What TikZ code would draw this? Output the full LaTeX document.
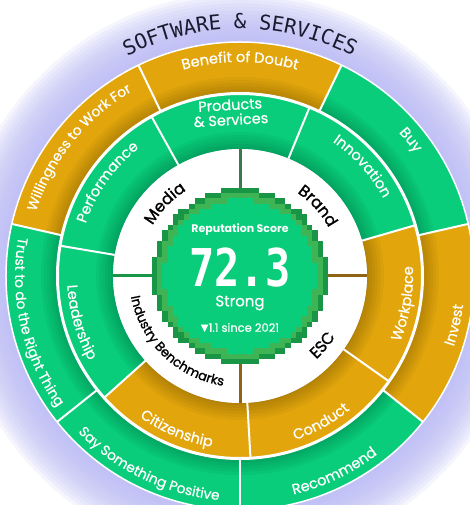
\documentclass[tikz,border=0pt]{standalone}
\usepackage{fontspec}
\usetikzlibrary{decorations.text}

\newfontfamily\lbl{Poppins}
\newfontfamily\lblm[FakeBold=0.6]{Poppins}
\newfontfamily\lbln[FakeBold=1.2]{Poppins}
\newfontfamily\pixfont{DejaVu Sans Mono}
\newfontfamily\simb{DejaVu Sans}

\definecolor{verde}{RGB}{9,205,122}
\definecolor{oro}{RGB}{226,166,12}
\definecolor{verdeosc}{RGB}{24,150,70}
\definecolor{verdemed}{RGB}{62,180,84}
\definecolor{lila}{RGB}{188,188,246}
\definecolor{tinta}{RGB}{26,26,46}
\definecolor{cafe}{RGB}{140,100,20}
\definecolor{musgo}{RGB}{60,120,80}

\newcommand{\blanca}{\lblm\fontsize{14.5}{14.5}\selectfont\color{white}}
\newcommand{\blancac}{\lblm\fontsize{13.8}{13.8}\selectfont\color{white}}
\newcommand{\negra}{\lbln\fontsize{16}{16}\selectfont\color{black}}
\newcommand{\negrac}{\lbln\fontsize{13}{13}\selectfont\color{black}}
\newcommand{\titulo}{\pixfont\fontsize{20.5}{20.5}\selectfont\color{tinta}}

% sector de anillo: inicio, fin, radio int, radio ext, color
\newcommand{\sectorfill}[5]{\fill[#5] (#1:#3) arc[start angle=#1, end angle=#2, radius=#3] -- (#2:#4) arc[start angle=#2, end angle=#1, radius=#4] -- cycle;}
% texto sobre arco: angulo, radio, texto, formato
\newcommand{\horario}[4]{\path[etiq, decoration={text={|#4|#3}}] ({#1+60}:#2) arc[start angle={#1+60}, end angle={#1-60}, radius=#2];}
\newcommand{\antihorario}[4]{\path[etiq, decoration={text={|#4|#3}}] ({#1-60}:#2) arc[start angle={#1-60}, end angle={#1+60}, radius=#2];}
% disco pixelado: radio (celdas), filas, color
\newcommand{\pixdisc}[3]{\foreach \j in {-#2,...,#2}{%
  \pgfmathsetlengthmacro\w{(floor(sqrt(#1*#1-(\j)*(\j)))+0.5)*5.35pt}%
  \pgfmathsetlengthmacro\ya{(\j-0.52)*5.35pt}%
  \pgfmathsetlengthmacro\yb{(\j+0.52)*5.35pt}%
  \fill[#3] (-\w,\ya) rectangle (\w,\yb);}}

\begin{document}
\begin{tikzpicture}
	\tikzstyle{etiq} = [decorate, decoration={text along path, text align=center}]
	\tikzstyle{centro} = [align=center, inner sep=0pt, text=white]
	\tikzstyle{divisor} = [line width=2pt, white]
	\tikzstyle{cuarto} = [line width=3pt]

	\useasboundingbox (-240pt,-229pt) rectangle (230pt,276pt);
	\fill[white] (-240pt,-229pt) rectangle (230pt,276pt);
	% halo
	\foreach \k in {14,13,...,1}{
		\pgfmathsetlengthmacro\rr{234pt+\k*3.5pt}
		\fill[lila, opacity=0.14] (0,0) circle[radius=\rr];
	}

	% anillo exterior
	\foreach \c [count=\i from 0] in {oro,oro,verde,verde,verde,oro,verde}{
		\pgfmathsetmacro\a{64.286+51.4286*\i}
		\pgfmathsetmacro\b{\a+51.4286}
		\sectorfill{\a}{\b}{182pt}{234pt}{\c}
	}
	\foreach \k in {2,5,...,17}{
		\pgfmathsetlengthmacro\rr{182pt+\k*1pt}
		\fill[black, opacity=0.035, even odd rule] (0,0) circle[radius=182pt] circle[radius=\rr];
	}

	% anillo medio
	\foreach \c [count=\i from 0] in {verde,verde,verde,oro,oro,oro,verde}{
		\pgfmathsetmacro\a{67.586+51.4286*\i}
		\pgfmathsetmacro\b{\a+51.4286}
		\sectorfill{\a}{\b}{127pt}{182pt}{\c}
	}
	\foreach \k in {2,5,...,17}{
		\pgfmathsetlengthmacro\rr{127pt+\k*1pt}
		\fill[black, opacity=0.035, even odd rule] (0,0) circle[radius=127pt] circle[radius=\rr];
	}

	\foreach \i in {0,...,6}{
		\draw[divisor] ({64.286+51.4286*\i}:182pt) -- ({64.286+51.4286*\i}:234pt);
		\draw[divisor] ({67.586+51.4286*\i}:127pt) -- ({67.586+51.4286*\i}:182pt);
	}
	\draw[white, line width=3pt] (0,0) circle[radius=182.5pt];
	\draw[white, line width=1.5pt] (0,0) circle[radius=234pt];

	% anillo blanco
	\fill[white] (0,0) circle[radius=127pt];
	\draw[cuarto, musgo] (90:86pt) -- (90:127pt);
	\draw[cuarto, verdeosc] (180:86pt) -- (180:127pt);
	\draw[cuarto, cafe] (0:86pt) -- (0:127pt);
	\draw[cuarto, cafe] (270:86pt) -- (270:127pt);

	% disco central
	\pixdisc{16.3}{16}{verdeosc}
	\pixdisc{15.3}{15}{verdemed}
	\pixdisc{14.3}{14}{verde}

	\draw (0pt,46pt) node[centro, font=\lbl\bfseries\fontsize{11}{11}\selectfont](rep){Reputation Score};
	\draw (0pt,8pt) node[centro, font=\pixfont\bfseries\fontsize{42}{42}\selectfont](val){\scalebox{1}[1.24]{72.3}};
	\draw (0pt,-27pt) node[centro, font=\lblm\fontsize{15}{15}\selectfont](cal){Strong};
	\draw (0pt,-52pt) node[centro, font=\lblm\fontsize{11.5}{11.5}\selectfont](tend){{\simb\fontsize{10}{10}\selectfont ▼}1.1 since 2021};
	\draw (93.3:164pt) node[centro, rotate=3.3, font=\lblm\fontsize{14.5}{15}\selectfont](prod){Products\\\& Services};

	\horario{90}{214pt}{Benefit of Doubt}{\blanca}
	\horario{38.57}{214pt}{Buy}{\blanca}
	\antihorario{-12.86}{225pt}{Invest}{\blanca}
	\antihorario{-64.29}{225pt}{Recommend}{\blanca}
	\antihorario{-115.71}{225pt}{Say Something Positive}{\blancac}
	\antihorario{192.86}{225pt}{Trust to do the Right Thing}{\blancac}
	\horario{141.43}{214pt}{Willingness to Work For}{\blancac}

	\horario{41.87}{163pt}{Innovation}{\blanca}
	\antihorario{-9.56}{173pt}{Workplace}{\blanca}
	\antihorario{-60.99}{173pt}{Conduct}{\blanca}
	\antihorario{-112.41}{173pt}{Citizenship}{\blanca}
	\antihorario{196.16}{173pt}{Leadership}{\blanca}
	\horario{144.73}{163pt}{Performance}{\blanca}

	\horario{136}{101pt}{Media}{\negra}
	\horario{42}{101pt}{Brand}{\negra}
	\antihorario{-40}{113pt}{ESC}{\negra}
	\antihorario{226}{111pt}{Industry Benchmarks}{\negrac}

	\horario{90}{247pt}{SOFTWARE {\&} SERVICES}{\titulo}
\end{tikzpicture}
\end{document}
